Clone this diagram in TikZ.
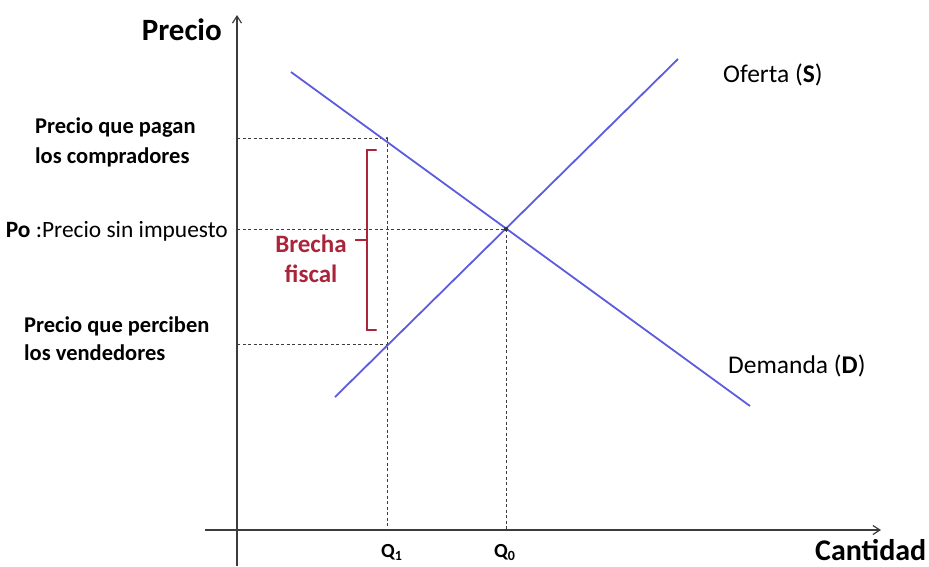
\documentclass[tikz,border=0pt]{standalone}
\usepackage{fontspec}
\setmainfont{Carlito}
\usetikzlibrary{arrows.meta}
\definecolor{curve}{RGB}{92,92,222}
\definecolor{brecha}{RGB}{170,36,58}
\definecolor{axisc}{RGB}{60,60,60}
\tikzset{
  axisline/.style={draw=axisc, line width=1.2pt},
  curveline/.style={draw=curve, line width=1.8pt},
  guide/.style={draw=axisc, line width=0.9pt, dash pattern=on 3pt off 2.5pt},
  lbl/.style={inner sep=0pt, font=\fontsize{22.5}{29}\selectfont\bfseries, align=left},
  plain/.style={inner sep=0pt, font=\fontsize{25.5}{28}\selectfont},
}
\begin{document}
\begin{tikzpicture}[x=1pt,y=-1pt]
\useasboundingbox (0,0) rectangle (929,566);
% axes
\coordinate (ybot) at (237,566);
\coordinate (ytop) at (237,15);
\coordinate (xleft) at (205,530);
\coordinate (xright) at (881,530);
\draw[axisline, -{Straight Barb[length=7pt,width=9pt]}] (ybot) -- (ytop);
\draw[axisline, -{Straight Barb[length=7pt,width=9pt]}] (xleft) -- (xright);
% key points
\coordinate (E) at (506,229);
\coordinate (A) at (387,138);
\coordinate (B) at (387,344);
\coordinate (yA) at (237,138);
\coordinate (yE) at (237,229);
\coordinate (yB) at (237,344);
\coordinate (q1) at (387,530);
\coordinate (q0) at (506,530);
% guides
\draw[guide] (yA) -- (A);
\draw[guide] (yE) -- (E);
\draw[guide] (yB) -- (B);
\draw[guide] (A) -- (q1);
\draw[guide] (E) -- (q0);
% curves
\coordinate (d1) at (291,72);
\coordinate (d2) at (750,406);
\coordinate (s1) at (335,397);
\coordinate (s2) at (678,59);
\draw[curveline] (d1) -- (d2);
\draw[curveline] (s1) -- (s2);
\fill[black!80] (E) circle (2.2pt);
\fill[black!80] (A) circle (1.2pt);
% bracket
\coordinate (bt) at (376,150);
\coordinate (bb) at (376,330);
\coordinate (bm) at (355,240);
\draw[brecha, line width=2.4pt, line cap=round] (bt) -- (367,150) -- (367,330) -- (bb);
\draw[brecha, line width=2.4pt] (367,240) -- (bm);
\node[inner sep=0pt, text=brecha, font=\fontsize{25}{30}\selectfont\bfseries, align=center, anchor=base] (brn) at (311,282) {Brecha\\fiscal};
% labels
\node[lbl, font=\fontsize{31}{33}\selectfont\bfseries, anchor=base east] (precio) at (222,40) {Precio};
\node[lbl, anchor=base west, font=\fontsize{30}{33}\selectfont\bfseries] (cant) at (815,560) {Cantidad};
\node[lbl, anchor=base west, font=\fontsize{22.5}{30}\selectfont\bfseries] (pag) at (35,163) {Precio que pagan\\los compradores};
\node[lbl, anchor=base west, font=\fontsize{22.5}{28}\selectfont\bfseries] (per) at (24,360) {Precio que perciben\\los vendedores};
\node[plain, anchor=base east, font=\fontsize{23.4}{26}\selectfont] (po) at (228,237) {\textbf{Po} :Precio sin impuesto};
\node[plain, anchor=base west] (of) at (723,82) {Oferta (\textbf{S})};
\node[plain, anchor=base west] (de) at (728,373) {Demanda (\textbf{D})};
\node[lbl, font=\fontsize{20}{22}\selectfont\bfseries, anchor=base west] (Q1) at (381,557) {Q\textsubscript{1}};
\node[lbl, font=\fontsize{20}{22}\selectfont\bfseries, anchor=base west] (Q0) at (494,557) {Q\textsubscript{0}};
\end{tikzpicture}
\end{document}
